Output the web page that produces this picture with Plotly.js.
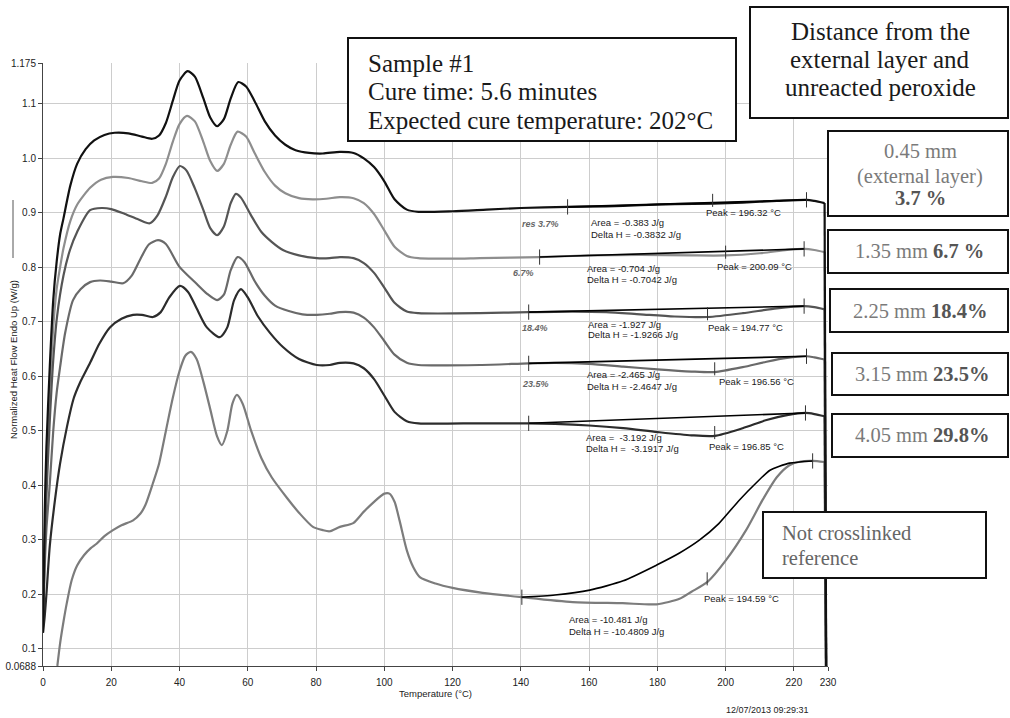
<!DOCTYPE html>
<html>
<head>
<meta charset="utf-8">
<script src="https://cdn.plot.ly/plotly-3.0.1.min.js"></script>
<style>html,body{margin:0;padding:0;background:#fff;}#chart{width:1010px;height:718px;}</style>
</head>
<body>
<div id="chart"></div>
<script>
// ---------------- DATA ----------------
// Curve 1: 0.45 mm (external layer), 3.7 %
const temp1 = [0,0.5,1,2,3,4,5,6,8,10,12.5,15,18,21,25,29,32,34,36,38,40,42.4,44.5,47,49,51,53,55,57.2,59.5,62,65,68,71,74,78,82,87,91,94,97,100,103,106.6,110,120,130,140,153.7,165,175,185,196.2,205,215,223.7,226,229,229.5];
const flow1 = [0.13,0.35,0.47,0.62,0.74,0.81,0.86,0.89,0.95,0.99,1.017,1.033,1.043,1.047,1.046,1.040,1.036,1.042,1.065,1.105,1.143,1.160,1.150,1.110,1.075,1.059,1.072,1.110,1.140,1.132,1.105,1.068,1.042,1.025,1.015,1.010,1.009,1.012,1.010,1.000,0.984,0.958,0.925,0.906,0.902,0.903,0.906,0.909,0.911,0.912,0.914,0.916,0.917,0.919,0.922,0.924,0.922,0.918,0.0];
// Curve 2: 1.35 mm, 6.7 %
const temp2 = [0,0.5,1,2,3,4,5,6,8,10,13.8,17,20.5,25,29,32,34,36,38,40,42.2,44.5,47,49,51,53,55,57,59.5,62,65,68,71,75,79,83,87,91,94,97,100,103,106.6,110,120,128,145.5,160,175,190,200,210,218,223,226,229,229.5];
const flow2 = [0.15,0.30,0.42,0.58,0.69,0.76,0.80,0.835,0.885,0.915,0.946,0.961,0.966,0.964,0.958,0.955,0.963,0.990,1.030,1.063,1.078,1.068,1.030,0.995,0.977,0.990,1.025,1.049,1.040,1.010,0.975,0.950,0.936,0.927,0.925,0.926,0.929,0.927,0.918,0.898,0.868,0.838,0.821,0.817,0.816,0.817,0.819,0.822,0.823,0.822,0.822,0.826,0.832,0.834,0.832,0.828,0.0];
// Curve 3: 2.25 mm, 18.4 %
const temp3 = [0,0.5,1,2,3,4.1,6,7.9,10,13.8,17.2,20,24,28,31.3,33.5,36,38,40.1,42,44.5,47,49,51,53,55,56.5,58,61,64,67,70.3,75,80.2,84,87,91,94,97,100,103,106.6,110,128,142.3,155,165,175,185,194.7,205,215,223,226,229,229.5];
const flow3 = [0.14,0.28,0.38,0.52,0.63,0.709,0.785,0.832,0.865,0.905,0.909,0.907,0.898,0.888,0.881,0.895,0.930,0.965,0.986,0.978,0.945,0.905,0.872,0.859,0.875,0.918,0.935,0.928,0.895,0.865,0.847,0.832,0.822,0.817,0.817,0.819,0.817,0.808,0.790,0.763,0.735,0.719,0.716,0.716,0.718,0.719,0.718,0.714,0.710,0.709,0.716,0.725,0.729,0.727,0.723,0.0];
// Curve 4: 3.15 mm, 23.5 %
const temp4 = [0,0.5,1,2,3,4,5,6.5,8.8,11,13.8,16.7,20,23.5,26,28.5,31,33.7,36,40,45,48,51,53,55,57,59,62,65,68,72,76,80.2,84,87,91,94,97,100,103,106.6,110,128,142.3,150,160,170,180,190,196.8,205,212,218,223.7,226,229,229.5];
const flow4 = [0.15,0.25,0.32,0.404,0.50,0.57,0.617,0.68,0.740,0.760,0.773,0.776,0.774,0.771,0.785,0.815,0.842,0.850,0.843,0.801,0.770,0.752,0.740,0.750,0.795,0.819,0.810,0.775,0.748,0.730,0.720,0.714,0.713,0.715,0.718,0.717,0.708,0.690,0.665,0.640,0.625,0.621,0.621,0.624,0.625,0.623,0.618,0.613,0.609,0.608,0.617,0.627,0.634,0.637,0.635,0.631,0.0];
// Curve 5: 4.05 mm, 29.8 %
const temp5 = [0,0.5,1,2,3.5,5,7,9,10.8,13.8,16.5,19.6,23,26.4,29,32.2,34.5,37,40.1,42.5,45,48,51.8,54,56,58,60,63,66.5,70.3,75,80.2,84,87,91,94,97,100,103,106.6,110,128,142.3,150,160,170,180,190,196.8,205,212,218,223.4,226,229,229.5];
const flow5 = [0.13,0.16,0.20,0.29,0.373,0.44,0.507,0.56,0.588,0.625,0.660,0.690,0.706,0.713,0.713,0.709,0.718,0.745,0.766,0.755,0.725,0.690,0.672,0.690,0.740,0.760,0.745,0.710,0.680,0.654,0.632,0.621,0.621,0.625,0.624,0.615,0.595,0.565,0.535,0.518,0.514,0.514,0.514,0.513,0.510,0.505,0.498,0.492,0.491,0.505,0.520,0.529,0.533,0.531,0.527,0.0];
// Curve 6: not crosslinked reference
const temp6 = [4.2,5,6,7,8.4,10,12,14,15.7,18,20.5,23,26.4,28.5,30,32.2,34,36,38,40,41.7,43.3,45,47,49,51,52.4,54,55.5,56.8,58.5,61,64,67,71.5,75,79.1,82,84,87,90.9,94,97,100,101.5,103,104.5,106.6,108.5,110.4,115,120,128.8,140.3,155.2,169.8,179.8,186.5,190,194.7,200,206,210.8,215,218.7,222,225.5,229,229.4];
const flow6 = [0.0688,0.11,0.15,0.185,0.226,0.253,0.272,0.285,0.293,0.307,0.318,0.327,0.336,0.348,0.364,0.404,0.440,0.500,0.560,0.610,0.638,0.645,0.632,0.590,0.540,0.490,0.474,0.500,0.550,0.566,0.550,0.500,0.450,0.415,0.377,0.350,0.324,0.318,0.316,0.324,0.331,0.352,0.370,0.385,0.385,0.370,0.335,0.281,0.250,0.232,0.220,0.212,0.203,0.195,0.186,0.184,0.182,0.192,0.205,0.223,0.262,0.318,0.373,0.415,0.437,0.444,0.445,0.443,0.0];
// Integration baselines
const baseT1 = [153.7,223.7], baseF1 = [0.911,0.924];
const baseT2 = [145.5,223.0], baseF2 = [0.819,0.834];
const baseT3 = [142.3,223.0], baseF3 = [0.718,0.729];
const baseT4 = [142.3,223.7], baseF4 = [0.624,0.637];
const baseT5 = [142.3,223.4], baseF5 = [0.514,0.533];
const baseT6 = [140.3,150,160.2,170,179.8,186.5,192.4,198,204,209,213,218.7,225.5];
const baseF6 = [0.195,0.199,0.208,0.225,0.254,0.276,0.300,0.330,0.373,0.405,0.428,0.441,0.445];
// Peak temperatures (for peak markers)
const peakT = [196.2,200.0,194.7,196.8,196.8,194.6];
// Axis ticks
const tempTicks = [0,20,40,60,80,100,120,140,160,180,200,220,230];
const flowTicks = [0.0688,0.1,0.2,0.3,0.4,0.5,0.6,0.7,0.8,0.9,1.0,1.1,1.175];
const flowTickText = ['0.0688','0.1','0.2','0.3','0.4','0.5','0.6','0.7','0.8','0.9','1.0','1.1','1.175'];
// Texts
const areaTexts = [
  ['Area = -0.383 J/g','Delta H = -0.3832 J/g','Peak = 196.32 °C','res 3.7%'],
  ['Area = -0.704 J/g','Delta H = -0.7042 J/g','Peak = 200.09 °C','6.7%'],
  ['Area = -1.927 J/g','Delta H = -1.9266 J/g','Peak = 194.77 °C','18.4%'],
  ['Area = -2.465 J/g','Delta H = -2.4647 J/g','Peak = 196.56 °C','23.5%'],
  ['Area =  -3.192 J/g','Delta H =  -3.1917 J/g','Peak = 196.85 °C',''],
  ['Area = -10.481 J/g','Delta H = -10.4809 J/g','Peak = 194.59 °C','']
];
const sampleLines = ['Sample #1','Cure time: 5.6 minutes','Expected cure temperature: 202°C'];
const distanceLines = ['Distance from the','external layer and','unreacted peroxide'];
const layerDist = ['0.45 mm','1.35 mm','2.25 mm','3.15 mm','4.05 mm'];
const layerPct = ['3.7 %','6.7 %','18.4%','23.5%','29.8%'];

// ---------------- DRAWING ----------------
const L=43, R=828, T=63, B=666;
const PX = x => (x-L)/(R-L);
const PY = y => (B-y)/(B-T);
function interp(xs, ys, x){
  for(let i=0;i<xs.length-1;i++){
    if(x>=xs[i] && x<=xs[i+1]){const f=(x-xs[i])/(xs[i+1]-xs[i]);return ys[i]+f*(ys[i+1]-ys[i]);}
  }
  return ys[ys.length-1];
}
const curves = [
  {t:temp2,f:flow2,c:'#8e8e8e'},
  {t:temp6,f:flow6,c:'#7c7c7c'},
  {t:temp4,f:flow4,c:'#6a6a6a'},
  {t:temp3,f:flow3,c:'#555555'},
  {t:temp5,f:flow5,c:'#2c2c2c'},
  {t:temp1,f:flow1,c:'#111111'}
];
const traces=[];
curves.forEach(cv=>{
  const n=cv.t.length;
  // smooth body of the scan
  traces.push({x:cv.t.slice(0,n-1),y:cv.f.slice(0,n-1),mode:'lines',type:'scatter',
    line:{color:cv.c,width:2.2,shape:'spline',smoothing:0.7},hoverinfo:'skip'});
  // end-of-scan vertical drop
  traces.push({x:cv.t.slice(n-2),y:cv.f.slice(n-2),mode:'lines',type:'scatter',
    line:{color:cv.c,width:2.2},hoverinfo:'skip'});
});
const bases = [[baseT1,baseF1],[baseT2,baseF2],[baseT3,baseF3],[baseT4,baseF4],[baseT5,baseF5],[baseT6,baseF6]];
bases.forEach(b=>traces.push({x:b[0],y:b[1],mode:'lines',type:'scatter',
  line:{color:'#000',width:1.6,shape:'spline',smoothing:0.6},hoverinfo:'skip'}));

const shapes=[];
const curveList=[[temp1,flow1],[temp2,flow2],[temp3,flow3],[temp4,flow4],[temp5,flow5],[temp6,flow6]];
function vtick(x,y,h){shapes.push({type:'line',xref:'x',yref:'y',x0:x,x1:x,y0:y-h,y1:y+h,line:{color:'#333',width:1}});}
bases.forEach((b,i)=>{
  const bt=b[0], bf=b[1];
  vtick(bt[0],bf[0],0.014);
  vtick(bt[bt.length-1],bf[bf.length-1],0.014);
  const pk=peakT[i];
  vtick(pk,interp(curveList[i][0],curveList[i][1],pk)+0.006,0.012);
});
// y-axis legend line
shapes.push({type:'line',xref:'paper',yref:'paper',x0:PX(13),x1:PX(13),y0:PY(200),y1:PY(258),line:{color:'#555',width:1}});
// boxes
function box(x0,y0,x1,y1){shapes.push({type:'rect',xref:'paper',yref:'paper',x0:PX(x0),x1:PX(x1),y0:PY(y1),y1:PY(y0),line:{color:'#111',width:2},fillcolor:'#fff',layer:'above'});}
box(348,38,736,141);
box(750,7,1008,118);
box(828,131,1008,216);
box(828,230,1008,273);
box(830,289,1008,332);
box(832,353,1008,395);
box(832,414,1008,457);
box(763,512,986,578);

const ann=[];
const SANS='Liberation Sans, Arial, sans-serif';
const SERIF='Liberation Serif, Times New Roman, serif';
function txt(x,y,text,opt){ann.push(Object.assign({xref:'paper',yref:'paper',x:PX(x),y:PY(y),text:text,showarrow:false,
  xanchor:'left',yanchor:'middle',font:{family:SANS,size:9.5,color:'#1a1a1a'}},opt||{}));}
// area annotations
const areaPos=[[589,222,234,704,212,540,224],[585,268,279,715,266,523,273],[586,324,335,706,327,535,328],[585,374,386,717,381,535,384],[584,437,448,707,446,0,0],[567,619,631,702,598,0,0]];
areaPos.forEach((p,i)=>{
  txt(p[0],p[1],areaTexts[i][0]);
  txt(p[0],p[2],areaTexts[i][1]);
  txt(p[3],p[4],areaTexts[i][2]);
  if(areaTexts[i][3]) txt(p[5],p[6],'<b><i>'+areaTexts[i][3]+'</i></b>',{xanchor:'center',font:{family:SANS,size:9,color:'#666'}});
});
// y-axis title
txt(13,360,'Normalized Heat Flow Endo Up (W/g)',{xanchor:'center',textangle:-90,font:{family:SANS,size:9.5,color:'#222'}});
// date
txt(767,710,'12/07/2013 09:29:31',{xanchor:'center',font:{family:SANS,size:9,color:'#222'}});
// sample box
[63,91,120].forEach((y,i)=>txt(366,y,sampleLines[i],{font:{family:SERIF,size:25,color:'#1a1a1a'}}));
// distance box
[31,59,87].forEach((y,i)=>txt(880,y,distanceLines[i],{xanchor:'center',font:{family:SERIF,size:25,color:'#1a1a1a'}}));
// layer boxes
txt(920,151,layerDist[0],{xanchor:'center',font:{family:SERIF,size:20.5,color:'#7a7a7a'}});
txt(920,176,'(external layer)',{xanchor:'center',font:{family:SERIF,size:20.5,color:'#7a7a7a'}});
txt(920,198,'<b>'+layerPct[0]+'</b>',{xanchor:'center',font:{family:SERIF,size:20.5,color:'#555'}});
const layerY=[251,311,374,435], layerX=[919,920,922,922];
for(let i=1;i<5;i++){
  txt(layerX[i-1],layerY[i-1],layerDist[i]+' <b><span style="color:#555">'+layerPct[i]+'</span></b>',{xanchor:'center',font:{family:SERIF,size:20.5,color:'#7a7a7a'}});
}
// not crosslinked
txt(780,533,'Not crosslinked',{font:{family:SERIF,size:20.5,color:'#666'}});
txt(780,558,'reference',{font:{family:SERIF,size:20.5,color:'#666'}});

const axisCommon={showgrid:true,gridcolor:'#cdcdcd',gridwidth:1,showline:true,linecolor:'#444',linewidth:1,
  ticks:'outside',ticklen:4,tickcolor:'#444',zeroline:false,tickfont:{family:SANS,size:10,color:'#222'},fixedrange:true};
const layout={
  width:1010,height:718,margin:{l:L,r:1010-R,t:T,b:718-B,pad:0},
  paper_bgcolor:'#fff',plot_bgcolor:'#fff',showlegend:false,
  xaxis:Object.assign({},axisCommon,{range:[0,230],tickmode:'array',tickvals:tempTicks,ticktext:tempTicks.map(String),
    ticklabelstandoff:3,
    title:{text:'Temperature (°C)',font:{family:SANS,size:9.5,color:'#222'},standoff:3}}),
  yaxis:Object.assign({},axisCommon,{range:[0.0688,1.175],tickmode:'array',tickvals:flowTicks,ticktext:flowTickText})
};
layout.shapes=shapes; layout.annotations=ann;
Plotly.newPlot('chart',traces,layout,{staticPlot:true,displayModeBar:false});
</script>
</body>
</html>
